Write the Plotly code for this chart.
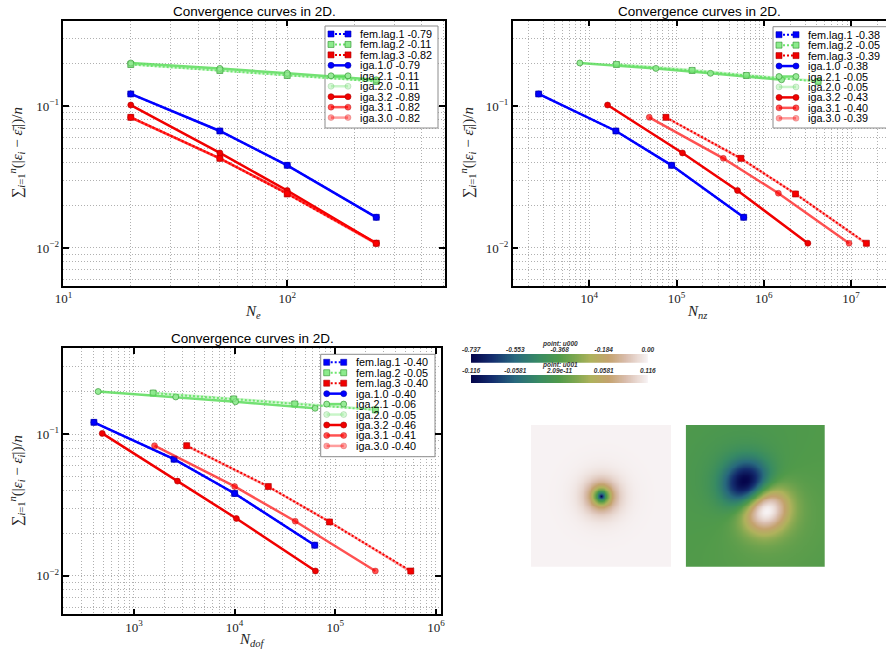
import numpy as np
import plotly.graph_objects as go

W, H = 886, 652

# ---------------- data ----------------
series_names = ['fem.lag.1', 'fem.lag.2', 'fem.lag.3', 'iga.1.0', 'iga.2.1',
                'iga.2.0', 'iga.3.2', 'iga.3.1', 'iga.3.0']

slopes_ne = ['-0.79', '-0.11', '-0.82', '-0.79', '-0.11', '-0.11', '-0.89', '-0.82', '-0.82']
slopes_nnz = ['-0.38', '-0.05', '-0.39', '-0.38', '-0.05', '-0.05', '-0.43', '-0.40', '-0.39']
slopes_ndof = ['-0.40', '-0.05', '-0.40', '-0.40', '-0.06', '-0.05', '-0.46', '-0.41', '-0.40']

ne = [20, 50, 100, 250]

nnz_lag1 = [2630, 20200, 87900, 589000]
nnz_lag2 = [20500, 151000, 632000, 4200000]
nnz_lag3 = [75700, 547000, 2310000, 15000000]
nnz_iga21 = [7800, 58100, 245000, 1600000]
nnz_iga32 = [16200, 117000, 500000, 3200000]
nnz_iga31 = [48700, 344000, 1470000, 9500000]

ndof_lag1 = [400, 2500, 10000, 62500]
ndof_lag2 = [1550, 9800, 39500, 250000]
ndof_lag3 = [3340, 21600, 87600, 562000]
ndof_iga21 = [441, 2601, 10201, 63001]
ndof_iga32 = [484, 2704, 10404, 63504]
ndof_iga31 = [1600, 10000, 40000, 250000]

err_lag1 = [0.1216, 0.0667, 0.0382, 0.01644]
err_lag2 = [0.196, 0.178, 0.164, 0.149]
err_lag3 = [0.0832, 0.0428, 0.0240, 0.0108]
err_iga10 = [0.1216, 0.0667, 0.0382, 0.01644]
err_iga21 = [0.201, 0.184, 0.170, 0.153]
err_iga20 = [0.197, 0.179, 0.165, 0.150]
err_iga32 = [0.1016, 0.0467, 0.0254, 0.0108]
err_iga31 = [0.0832, 0.0428, 0.0243, 0.0108]
err_iga30 = [0.0830, 0.0426, 0.0241, 0.0107]

errors = {'fem.lag.1': err_lag1, 'fem.lag.2': err_lag2, 'fem.lag.3': err_lag3,
          'iga.1.0': err_iga10, 'iga.2.1': err_iga21, 'iga.2.0': err_iga20,
          'iga.3.2': err_iga32, 'iga.3.1': err_iga31, 'iga.3.0': err_iga30}

x_ne = {n: ne for n in series_names}
x_nnz = {'fem.lag.1': nnz_lag1, 'fem.lag.2': nnz_lag2, 'fem.lag.3': nnz_lag3,
         'iga.1.0': nnz_lag1, 'iga.2.1': nnz_iga21, 'iga.2.0': nnz_lag2,
         'iga.3.2': nnz_iga32, 'iga.3.1': nnz_iga31, 'iga.3.0': nnz_lag3}
x_ndof = {'fem.lag.1': ndof_lag1, 'fem.lag.2': ndof_lag2, 'fem.lag.3': ndof_lag3,
          'iga.1.0': ndof_lag1, 'iga.2.1': ndof_iga21, 'iga.2.0': ndof_lag2,
          'iga.3.2': ndof_iga32, 'iga.3.1': ndof_iga31, 'iga.3.0': ndof_lag3}

# colorbar labels
u000_ticks = [-0.737, -0.553, -0.368, -0.184, 0.0]
u000_labels = ['-0.737', '-0.553', '-0.368', '-0.184', '0.00']
u001_ticks = [-0.116, -0.0581, 0.0, 0.0581, 0.116]
u001_labels = ['-0.116', '-0.0581', '2.09e-11', '0.0581', '0.116']

# image field parameters (normalised image coordinates, half-width = 1)
u000_min = -0.737
u000_decay = 0.11
u001_max = 0.116
u001_sep = 0.18          # lobe offset from centre
u001_sigma = 0.34        # lobe width
u001_tail_sigma = 0.85   # broad background component
u001_tail_weight = 0.15
u001_dir = (0.6, -0.8)   # from negative lobe to positive lobe (y up)

# ---------------- styles ----------------
DOT = '2px,2px'
style = {
    'fem.lag.1': dict(color='rgb(0,0,255)', dash=DOT, width=2, symbol='square', mc='rgb(0,0,255)', me='rgb(0,0,170)'),
    'fem.lag.2': dict(color='rgb(110,230,110)', dash=DOT, width=2, symbol='square', mc='rgb(140,235,140)', me='rgb(40,140,40)'),
    'fem.lag.3': dict(color='rgb(240,0,0)', dash=DOT, width=2, symbol='square', mc='rgb(240,0,0)', me='rgb(170,0,0)'),
    'iga.1.0': dict(color='rgb(0,0,255)', dash='solid', width=2.5, symbol='circle', mc='rgb(0,0,255)', me='rgb(0,0,170)'),
    'iga.2.1': dict(color='rgba(90,220,90,0.85)', dash='solid', width=2.5, symbol='circle', mc='rgb(150,235,150)', me='rgb(40,140,40)'),
    'iga.2.0': dict(color='rgba(120,230,120,0.4)', dash='solid', width=2.5, symbol='circle', mc='rgba(150,235,150,0.4)', me='rgba(40,140,40,0.3)'),
    'iga.3.2': dict(color='rgb(240,0,0)', dash='solid', width=2.5, symbol='circle', mc='rgb(240,0,0)', me='rgb(170,0,0)'),
    'iga.3.1': dict(color='rgba(255,0,0,0.68)', dash='solid', width=2.5, symbol='circle', mc='rgba(255,0,0,0.68)', me='rgba(170,0,0,0.6)'),
    'iga.3.0': dict(color='rgba(255,0,0,0.38)', dash='solid', width=2.5, symbol='circle', mc='rgba(255,0,0,0.38)', me='rgba(170,0,0,0.3)'),
}

earth = [[0.0, 'rgb(5,5,75)'], [0.12, 'rgb(20,45,110)'], [0.25, 'rgb(40,105,125)'],
         [0.38, 'rgb(55,138,100)'], [0.5, 'rgb(80,154,74)'], [0.6, 'rgb(130,168,80)'],
         [0.68, 'rgb(175,178,92)'], [0.78, 'rgb(196,162,110)'], [0.88, 'rgb(218,190,175)'],
         [1.0, 'rgb(247,242,243)']]

GRID = '#b0b0b0'
GDASH = '1px,2px'
SERIF = 'Liberation Serif'
SANS = 'Liberation Sans'

fig = go.Figure()


def dom_x(a, b):
    return [a / W, min(b / W, 1.0)]


def dom_y(top, bottom):
    return [1 - bottom / H, 1 - top / H]


def sup_label(e):
    return '10<sup>%s%d</sup>' % ('\u2212' if e < 0 else '', abs(e))


def log_axis(rng, dom, anchor, majors, mirror=True):
    lo, hi = rng
    minors = []
    for e in range(int(np.floor(lo)) - 1, int(np.ceil(hi)) + 1):
        for d in range(2, 10):
            v = d * 10.0 ** e
            if lo < np.log10(v) < hi:
                minors.append(v)
    ax = dict(type='log', range=list(rng), domain=dom, anchor=anchor,
              tickmode='array', tickvals=[10.0 ** e for e in majors],
              ticktext=[sup_label(e) for e in majors],
              ticks='inside', ticklen=6, tickwidth=1.5, tickcolor='black',
              showline=True, linecolor='black', linewidth=1.5, mirror=mirror,
              showgrid=True, gridcolor=GRID, griddash=GDASH, gridwidth=1,
              zeroline=False, automargin=False,
              minor=dict(tickmode='array', tickvals=minors, showgrid=True,
                         gridcolor=GRID, griddash=GDASH, gridwidth=1, ticks=''),
              tickfont=dict(family=SERIF, size=13, color='#222'))
    return ax


panels = [
    dict(xd=(63.3, 445.0), yd=(20.7, 286.0), xr=(0.9995, 2.705), yr=(-2.268, -0.399),
         xmaj=[1, 2], xdata=x_ne, slopes=slopes_ne, xtitle='<i>N<sub>e</sub></i>',
         xtpos=(253, 312), ytx=17, leg=(325, 26, 113, 102), mirror_y='ticks'),
    dict(xd=(512.7, 886.0), yd=(20.7, 286.0), xr=(3.1226, 7.401), yr=(-2.268, -0.399),
         xmaj=[4, 5, 6, 7], xdata=x_nnz, slopes=slopes_nnz, xtitle='<i>N<sub>nz</sub></i>',
         xtpos=(697, 312), ytx=468, leg=(773, 26.7, 118, 101.3), mirror_y=False),
    dict(xd=(63.3, 440.7), yd=(348.3, 614.3), xr=(2.298, 6.047), yr=(-2.273, -0.391),
         xmaj=[3, 4, 5, 6], xdata=x_ndof, slopes=slopes_ndof, xtitle='<i>N<sub>dof</sub></i>',
         xtpos=(252, 640), ytx=17, leg=(320.7, 354.3, 114.3, 102.4), mirror_y='ticks'),
]

ytitle = ('\u2211<sub><i>i</i>=1</sub><sup><i>n</i></sup>(|<i>\u03b5<sub>i</sub></i> \u2212 '
          '<i>\u03b5\u0304<sub>i</sub></i>|)/<i>n</i>')

annotations = []
layout_axes = {}


def px_to_data(p, px, py):
    dx0, dx1 = p['xd']
    dy0, dy1 = p['yd']
    xr0, xr1 = p['xr']
    yr0, yr1 = p['yr']
    lx = xr0 + (px - dx0) / (dx1 - dx0) * (xr1 - xr0)
    ly = yr0 + (dy1 - py) / (dy1 - dy0) * (yr1 - yr0)
    return 10.0 ** lx, 10.0 ** ly


for k, p in enumerate(panels):
    sfx = '' if k == 0 else str(k + 1)
    xa, ya = 'x' + sfx, 'y' + sfx
    layout_axes['xaxis' + sfx] = log_axis(p['xr'], dom_x(*p['xd']), ya, p['xmaj'], mirror='ticks')
    layout_axes['yaxis' + sfx] = log_axis(p['yr'], dom_y(*p['yd']), xa, [-2, -1], mirror=p['mirror_y'])

    # legend frame: white box above the grid, below the curves
    lx, ly, lw, lh = p['leg']
    bx0, by0 = px_to_data(p, lx, ly + lh)
    bx1, by1 = px_to_data(p, lx + lw, ly)
    fig.add_trace(go.Scatter(x=[bx0, bx1, bx1, bx0, bx0], y=[by0, by0, by1, by1, by0],
                             xaxis=xa, yaxis=ya, mode='lines', fill='toself',
                             fillcolor='white', line=dict(color='#8c8c8c', width=1),
                             showlegend=False, hoverinfo='skip'))

    for n in series_names:
        s = style[n]
        fig.add_trace(go.Scatter(
            x=p['xdata'][n], y=errors[n], xaxis=xa, yaxis=ya, mode='lines+markers',
            line=dict(color=s['color'], width=s['width'], dash=s['dash']),
            marker=dict(symbol=s['symbol'], size=6, color=s['mc'], line=dict(color=s['me'], width=0.6)),
            showlegend=False, hoverinfo='skip'))
    cx = (p['xd'][0] + p['xd'][1]) / 2
    annotations.append(dict(text='Convergence curves in 2D.', xref='paper', yref='paper',
                            x=cx / W, y=1 - (p['yd'][0] - 9.5) / H, showarrow=False,
                            xanchor='center', yanchor='middle',
                            font=dict(family=SANS, size=13.5, color='black')))
    annotations.append(dict(text=p['xtitle'], xref='paper', yref='paper',
                            x=p['xtpos'][0] / W, y=1 - p['xtpos'][1] / H, showarrow=False,
                            xanchor='center', yanchor='middle',
                            font=dict(family=SERIF, size=15, color='#222')))
    cy = (p['yd'][0] + p['yd'][1]) / 2
    annotations.append(dict(text=ytitle, xref='paper', yref='paper', textangle=-90,
                            x=p['ytx'] / W, y=1 - cy / H, showarrow=False,
                            xanchor='center', yanchor='middle',
                            font=dict(family=SERIF, size=15, color='#222')))
    for i, n in enumerate(series_names):
        s = style[n]
        yrow = ly + 8 + i * 10.45
        fig.add_trace(go.Scatter(
            x=[lx + 6, lx + 23], y=[yrow, yrow], xaxis='x11', yaxis='y11', mode='lines+markers',
            line=dict(color=s['color'], width=s['width'], dash=s['dash']),
            marker=dict(symbol=s['symbol'], size=6, color=s['mc'], line=dict(color=s['me'], width=0.6)),
            showlegend=False, hoverinfo='skip'))
        annotations.append(dict(text='%s %s' % (n, p['slopes'][i]), xref='paper', yref='paper',
                                x=(lx + 34) / W, y=1 - yrow / H, showarrow=False,
                                xanchor='left', yanchor='middle', borderpad=0,
                                font=dict(family=SANS, size=10.8, color='black')))

# ---------------- images ----------------
g = np.linspace(-1, 1, 161)
GX, GY = np.meshgrid(g, g)
R = np.hypot(GX, GY)
field_u000 = u000_min * np.exp(-R / u000_decay)

dxu, dyu = u001_dir
pos_lobe = np.exp(-((GX - u001_sep * dxu) ** 2 + (GY - u001_sep * dyu) ** 2) / u001_sigma ** 2)
neg_lobe = np.exp(-((GX + u001_sep * dxu) ** 2 + (GY + u001_sep * dyu) ** 2) / u001_sigma ** 2)
proj = GX * dxu + GY * dyu
tail = proj * np.exp(-R ** 2 / u001_tail_sigma ** 2)
raw = pos_lobe - neg_lobe + u001_tail_weight * tail
field_u001 = u001_max * raw / np.abs(raw).max()

fig.add_trace(go.Heatmap(x=g, y=g, z=field_u000, xaxis='x7', yaxis='y7', colorscale=earth,
                         zmin=u000_min, zmax=0.0, showscale=False, zsmooth='best', hoverinfo='skip'))
fig.add_trace(go.Heatmap(x=g, y=g, z=field_u001, xaxis='x8', yaxis='y8', colorscale=earth,
                         zmin=-u001_max, zmax=u001_max, showscale=False, zsmooth='best', hoverinfo='skip'))
for ax_id, xd in (('7', (531, 671)), ('8', (685.7, 825))):
    layout_axes['xaxis' + ax_id] = dict(domain=dom_x(*xd), range=[-1, 1], visible=False,
                                        anchor='y' + ax_id)
    layout_axes['yaxis' + ax_id] = dict(domain=dom_y(425, 566.7), range=[-1, 1], visible=False,
                                        anchor='x' + ax_id)

# ---------------- colour bars ----------------
bars = [('9', u000_ticks, u000_labels, (354, 362.7), 'point: u000', 344),
        ('10', u001_ticks, u001_labels, (375, 383.3), 'point: u001', 364.5)]
for ax_id, ticks, labels, yd, title, ty in bars:
    vmin, vmax = ticks[0], ticks[-1]
    ramp = np.linspace(vmin, vmax, 256)
    fig.add_trace(go.Heatmap(x=ramp, y=[0], z=[ramp], xaxis='x' + ax_id, yaxis='y' + ax_id,
                             colorscale=earth, zmin=vmin, zmax=vmax, showscale=False,
                             hoverinfo='skip'))
    span = vmax - vmin
    layout_axes['xaxis' + ax_id] = dict(domain=dom_x(471, 648), range=[vmin - span * 1e-3, vmax + span * 1e-3],
                                        anchor='y' + ax_id, side='top', tickmode='array',
                                        tickvals=ticks, ticktext=labels, ticks='', showgrid=False,
                                        zeroline=False, showline=False, automargin=False,
                                        tickfont=dict(family=SANS, size=6.5, color='#333',
                                                      style='italic', weight='bold'))
    layout_axes['yaxis' + ax_id] = dict(domain=dom_y(*yd), range=[-0.5, 0.5], visible=False,
                                        anchor='x' + ax_id)
    annotations.append(dict(text=title, xref='paper', yref='paper', x=559.5 / W, y=1 - ty / H,
                            showarrow=False, xanchor='center', yanchor='middle', borderpad=0,
                            font=dict(family=SANS, size=6.5, color='#333', style='italic', weight='bold')))

# overlay axis in pixel units for legend samples
layout_axes['xaxis11'] = dict(domain=[0, 1], range=[0, W], visible=False, anchor='y11', fixedrange=True)
layout_axes['yaxis11'] = dict(domain=[0, 1], range=[H, 0], visible=False, anchor='x11', fixedrange=True)

fig.update_layout(width=W, height=H, margin=dict(l=0, r=0, t=0, b=0, pad=0, autoexpand=False),
                  paper_bgcolor='white', plot_bgcolor='rgba(0,0,0,0)',
                  showlegend=False, annotations=annotations,
                  font=dict(family=SANS), **layout_axes)

fig.write_html('out.html')
